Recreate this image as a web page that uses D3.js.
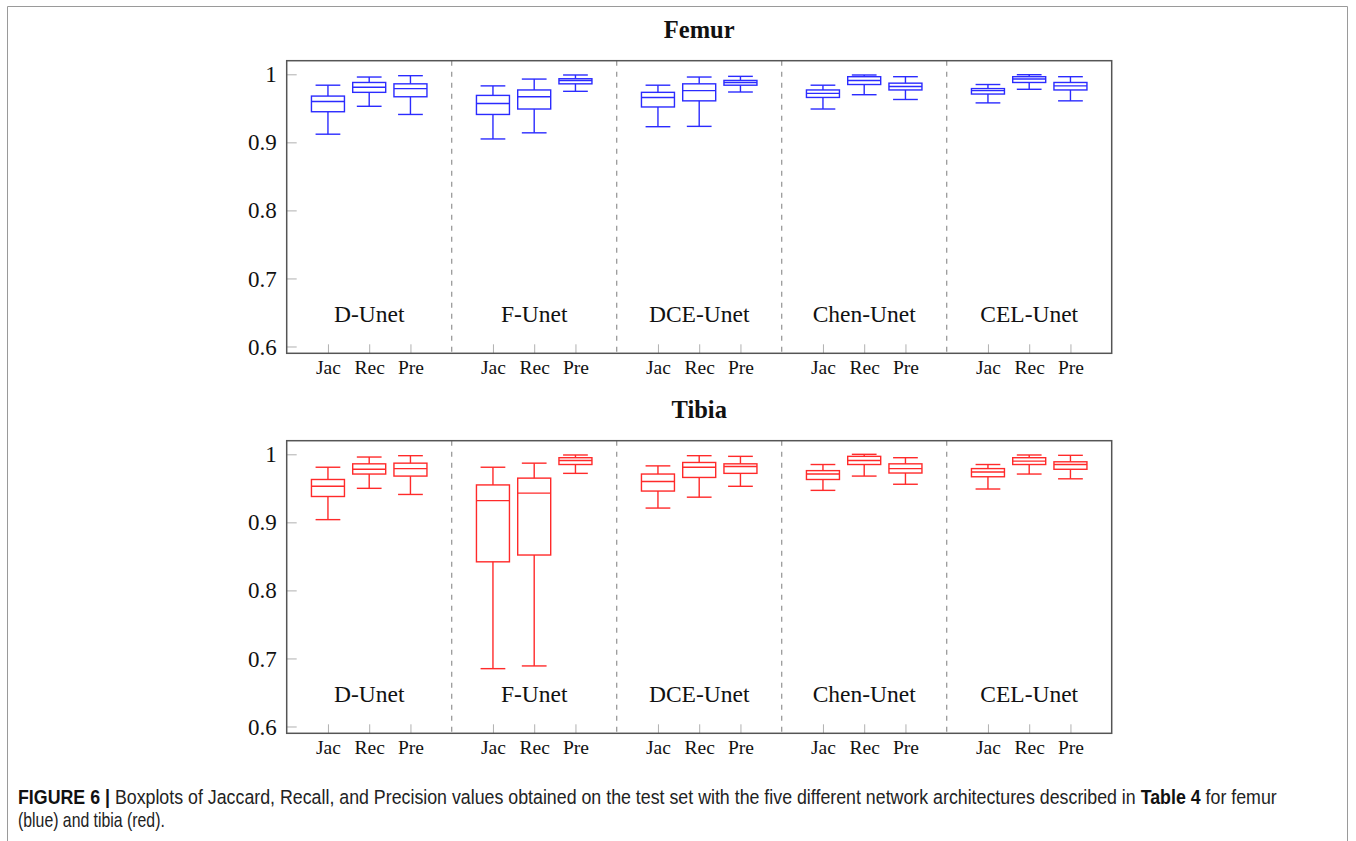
<!DOCTYPE html>
<html>
<head>
<meta charset="utf-8">
<script src="https://cdn.jsdelivr.net/npm/d3@7"></script>
<style>
  html, body { margin: 0; padding: 0; background: #fff; }
  svg { display: block; }
</style>
</head>
<body>
<svg id="fig" width="1356" height="841"></svg>
<script>
// Networks and metrics, one box per (network, metric)
const groups = ["D-Unet", "F-Unet", "DCE-Unet", "Chen-Unet", "CEL-Unet"];
const metrics = ["Jac", "Rec", "Pre"];
const yTickValues = [0.6, 0.7, 0.8, 0.9, 1];

// Femur: box statistics, ordered network by network (Jac, Rec, Pre)
const femurLow  = [0.912, 0.953, 0.941, 0.905, 0.914, 0.975, 0.923, 0.9235, 0.974, 0.949, 0.970, 0.963, 0.958, 0.978, 0.961];
const femurQ1   = [0.945, 0.9735, 0.967, 0.941, 0.949, 0.986, 0.952, 0.961, 0.984, 0.966, 0.985, 0.977, 0.971, 0.988, 0.977];
const femurMed  = [0.960, 0.981, 0.979, 0.957, 0.967, 0.991, 0.966, 0.976, 0.988, 0.972, 0.991, 0.982, 0.976, 0.993, 0.983];
const femurQ3   = [0.968, 0.988, 0.986, 0.969, 0.977, 0.9935, 0.9735, 0.986, 0.991, 0.977, 0.9965, 0.987, 0.979, 0.9965, 0.988];
const femurHigh = [0.984, 0.996, 0.998, 0.983, 0.993, 0.999, 0.984, 0.996, 0.997, 0.984, 0.999, 0.9965, 0.985, 0.9994, 0.9965];

// Tibia: box statistics, same ordering
const tibiaLow  = [0.904, 0.950, 0.941, 0.685, 0.689, 0.972, 0.921, 0.937, 0.953, 0.947, 0.968, 0.956, 0.949, 0.971, 0.964];
const tibiaQ1   = [0.938, 0.971, 0.968, 0.842, 0.852, 0.985, 0.946, 0.966, 0.972, 0.963, 0.985, 0.9725, 0.967, 0.985, 0.978];
const tibiaMed  = [0.953, 0.978, 0.979, 0.932, 0.943, 0.991, 0.960, 0.981, 0.982, 0.971, 0.991, 0.979, 0.974, 0.990, 0.985];
const tibiaQ3   = [0.963, 0.986, 0.987, 0.955, 0.965, 0.995, 0.971, 0.988, 0.986, 0.976, 0.997, 0.986, 0.979, 0.995, 0.989];
const tibiaHigh = [0.981, 0.996, 0.998, 0.981, 0.987, 0.999, 0.983, 0.998, 0.997, 0.985, 1.000, 0.995, 0.985, 0.999, 0.9985];

const panels = [
  { title: "Femur", color: "#2b2bff", low: femurLow, q1: femurQ1, med: femurMed, q3: femurQ3, high: femurHigh, top: 60.7 },
  { title: "Tibia", color: "#ff2a2a", low: tibiaLow, q1: tibiaQ1, med: tibiaMed, q3: tibiaQ3, high: tibiaHigh, top: 440.7 }
];

const svg = d3.select("#fig");
const serif = "'Liberation Serif', 'Times New Roman', serif";

// Outer figure frame
svg.append("path")
  .attr("d", "M7.5,841 V6.5 H1347.5 V841")
  .attr("fill", "none").attr("stroke", "#9a9a9a").attr("stroke-width", 1);

const plotLeft = 286.7, plotWidth = 825, plotHeight = 292.6;
const boxWidth = 0.8, capWidth = 0.6;

// Each network takes 4 slots: Jac, Rec, Pre plus a gap where the divider sits
const xPos = (g, m) => g * 4 + m + 1;

panels.forEach(p => {
  const g = svg.append("g").attr("transform", `translate(${plotLeft},${p.top})`);
  const x = d3.scaleLinear().domain([0, 20]).range([0, plotWidth]);
  const y = d3.scaleLinear().domain([0.59, 1.02]).range([plotHeight, 0]);

  // title
  svg.append("text")
    .attr("x", plotLeft + plotWidth / 2).attr("y", p.top - 22.4)
    .attr("text-anchor", "middle")
    .attr("font-family", serif).attr("font-weight", "bold").attr("font-size", 24.5)
    .attr("fill", "#111")
    .text(p.title);

  // y axis (ticks point inward)
  const yAxis = g.append("g")
    .call(d3.axisLeft(y).tickValues(yTickValues).tickSize(-10).tickPadding(10)
      .tickFormat(d => d === 1 ? "1" : d3.format(".1f")(d)));
  yAxis.select(".domain").remove();
  yAxis.selectAll(".tick line").attr("stroke", "#b0b0b0").attr("stroke-width", 1);
  yAxis.selectAll(".tick text")
    .attr("font-family", serif).attr("font-size", 23).attr("fill", "#111")
    .attr("dy", "0.33em");

  // x axis with metric labels
  const xTicks = [];
  groups.forEach((_, gi) => metrics.forEach((_, mi) => xTicks.push(xPos(gi, mi))));
  const xAxis = g.append("g").attr("transform", `translate(0,${plotHeight})`)
    .call(d3.axisBottom(x).tickValues(xTicks).tickSize(-9).tickPadding(10)
      .tickFormat(v => metrics[(v - 1) % 4]));
  xAxis.select(".domain").remove();
  xAxis.selectAll(".tick line").attr("stroke", "#b0b0b0").attr("stroke-width", 1);
  xAxis.selectAll(".tick text")
    .attr("font-family", serif).attr("font-size", 19.5).attr("fill", "#111")
    .attr("dy", "0.55em");

  // dashed dividers between networks
  g.selectAll("line.divider")
    .data(d3.range(1, groups.length))
    .join("line")
    .attr("class", "divider")
    .attr("x1", d => x(d * 4)).attr("x2", d => x(d * 4))
    .attr("y1", 0).attr("y2", plotHeight)
    .attr("stroke", "#9a9a9a").attr("stroke-width", 1.3)
    .attr("stroke-dasharray", "5,6");

  // network names
  g.selectAll("text.group")
    .data(groups)
    .join("text")
    .attr("class", "group")
    .attr("x", (d, i) => x(xPos(i, 1)))
    .attr("y", y(0.65))
    .attr("dy", "0.4em")
    .attr("text-anchor", "middle")
    .attr("font-family", serif).attr("font-size", 23.5).attr("fill", "#111")
    .text(d => d);

  // boxes
  const boxes = [];
  groups.forEach((_, gi) => metrics.forEach((_, mi) => {
    const k = gi * 3 + mi;
    boxes.push({ pos: xPos(gi, mi), low: p.low[k], q1: p.q1[k], med: p.med[k], q3: p.q3[k], high: p.high[k] });
  }));

  const bg = g.selectAll("g.box").data(boxes).join("g").attr("class", "box")
    .attr("fill", "none").attr("stroke", p.color).attr("stroke-width", 1.4);

  // whisker stems
  bg.append("line")
    .attr("x1", d => x(d.pos)).attr("x2", d => x(d.pos))
    .attr("y1", d => y(d.q3)).attr("y2", d => y(d.high));
  bg.append("line")
    .attr("x1", d => x(d.pos)).attr("x2", d => x(d.pos))
    .attr("y1", d => y(d.q1)).attr("y2", d => y(d.low));
  // whisker caps
  bg.append("line")
    .attr("x1", d => x(d.pos - capWidth / 2)).attr("x2", d => x(d.pos + capWidth / 2))
    .attr("y1", d => y(d.high)).attr("y2", d => y(d.high));
  bg.append("line")
    .attr("x1", d => x(d.pos - capWidth / 2)).attr("x2", d => x(d.pos + capWidth / 2))
    .attr("y1", d => y(d.low)).attr("y2", d => y(d.low));
  // box
  bg.append("rect")
    .attr("x", d => x(d.pos - boxWidth / 2))
    .attr("width", d => x(boxWidth) - x(0))
    .attr("y", d => y(d.q3))
    .attr("height", d => y(d.q1) - y(d.q3));
  // median
  bg.append("line")
    .attr("x1", d => x(d.pos - boxWidth / 2)).attr("x2", d => x(d.pos + boxWidth / 2))
    .attr("y1", d => y(d.med)).attr("y2", d => y(d.med));

  // plot frame
  g.append("rect")
    .attr("x", 0).attr("y", 0).attr("width", plotWidth).attr("height", plotHeight)
    .attr("fill", "none").attr("stroke", "#555").attr("stroke-width", 1.5);
});

// Caption, set in a condensed sans face: each line is squeezed horizontally
const capFont = "'Liberation Sans', Arial, sans-serif";

const line1 = svg.append("text")
  .attr("font-family", capFont).attr("font-size", 20.5).attr("fill", "#222");
line1.append("tspan").attr("font-weight", "bold").attr("fill", "#111").text("FIGURE 6 |");
line1.append("tspan").text(" Boxplots of Jaccard, Recall, and Precision values obtained on the test set with the five different network architectures described in ");
line1.append("tspan").attr("font-weight", "bold").attr("fill", "#111").text("Table 4");
line1.append("tspan").text(" for femur");

const line2 = svg.append("text")
  .attr("font-family", capFont).attr("font-size", 20.5).attr("fill", "#222")
  .text("(blue) and tibia (red).");

const fit = (sel, x0, y0, width) => {
  const w = sel.node().getComputedTextLength();
  sel.attr("transform", `translate(${x0},${y0}) scale(${width / w},1)`);
};
fit(line1, 18, 804, 1259);
fit(line2, 18, 827, 147);
</script>
</body>
</html>
